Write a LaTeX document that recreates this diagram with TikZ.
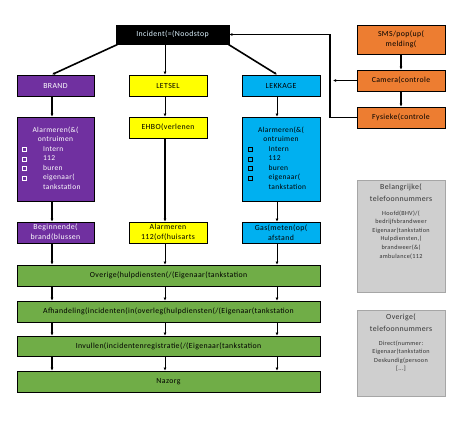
\documentclass[tikz,border=0pt]{standalone}
\usepackage{fontspec}
\setmainfont{Carlito}[LetterSpace=5]
\usetikzlibrary{arrows.meta,calc}
\definecolor{cpurple}{HTML}{7030A0}
\definecolor{cyellow}{HTML}{FFFF00}
\definecolor{cblue}{HTML}{00B0F0}
\definecolor{cgreen}{HTML}{70AD47}
\definecolor{corange}{HTML}{ED7D31}
\definecolor{cgray}{HTML}{CFCFCF}
\definecolor{cgrayline}{HTML}{A6A6A6}
\definecolor{ctitle}{HTML}{DDF4FF}
\newcommand{\sqbox}{\tikz[baseline=0pt]\draw[line width=0.5pt] (0,0) rectangle (4pt,4pt);}
\tikzset{
  bx/.style={draw=black, line width=0.9pt, inner sep=1pt, align=center, font=\fontsize{7.8}{10}\selectfont},
  purplebox/.style={bx, fill=cpurple, text=white},
  yellowbox/.style={bx, fill=cyellow, text=black},
  bluebox/.style={bx, fill=cblue, text=black},
  greenbox/.style={bx, fill=cgreen, text=black, minimum width=303pt},
  orangebox/.style={bx, fill=corange, text=black, minimum width=88pt},
  graybox/.style={draw=cgrayline, line width=0.8pt, fill=cgray, minimum width=88pt},
  graytext/.style={text=black!80, inner sep=0pt},
  arr/.style={-{Latex[length=3pt,width=3pt]}, line width=0.9pt},
  thickarr/.style={-{Latex[length=3pt,width=3pt]}, line width=1.6pt},
}
\newcommand{\alarmlist}{%
  \fontsize{7.5}{9.5}\selectfont
  \begin{tabular}{@{}p{21pt}@{}p{46pt}@{}}
  \multicolumn{2}{@{}c@{}}{Alarmeren(\&(}\\
  \multicolumn{2}{@{}c@{}}{ontruimen}\\
  \sqbox & Intern\\
  \sqbox & 112\\
  \sqbox & buren\\
  \sqbox & eigenaar(\\
   & tankstation
  \end{tabular}}
\begin{document}
\begin{tikzpicture}[x=1pt,y=-1pt]
\useasboundingbox (0,0) rectangle (459,423);
% top
\node[bx, fill=black, text=ctitle, minimum width=113pt, minimum height=19pt] (inc) at (172.5,34.5) {Incident(=(Noodstop};
\node[orangebox, minimum height=29pt] (sms) at (401,39.5) {SMS/pop(up(\\melding(};
\node[orangebox, minimum height=21pt] (cam) at (401,80.5) {Camera(controle};
\node[orangebox, minimum height=21pt] (fys) at (401,117.5) {Fysieke(controle};
% columns
\coordinate (colA) at (52,0);
\coordinate (colB) at (165,0);
\coordinate (colC) at (277,0);
\coordinate (fb) at (330,0);
\node[purplebox, minimum width=77pt, minimum height=21pt] (brand) at (55.5,85.5) {BRAND};
\node[yellowbox, minimum width=78pt, minimum height=21pt] (letsel) at (168,85.5) {LETSEL};
\node[bluebox, minimum width=78pt, minimum height=21pt] (lekkage) at (281,85.5) {LEKKAGE};
\node[purplebox, minimum width=77pt, minimum height=84pt] (alP) at (55.5,159) {\alarmlist};
\node[yellowbox, minimum width=78pt, minimum height=21pt] (ehbo) at (168,127.5) {EHBO(verlenen};
\node[bluebox, minimum width=78pt, minimum height=84pt] (alB) at (281,159) {\alarmlist};
\node[purplebox, minimum width=77pt, minimum height=21pt] (beg) at (55.5,232.5) {Beginnende(\\brand(blussen};
\node[yellowbox, minimum width=78pt, minimum height=21pt] (al112) at (168,232.5) {Alarmeren\\112(of(huisarts};
\node[bluebox, minimum width=78pt, minimum height=21pt] (gas) at (281,232.5) {Gas(meten(op(\\afstand};
% green bars
\node[greenbox, minimum height=21pt] (g1) at (168.5,275.5) {Overige(hulpdiensten(/(Eigenaar(tankstation};
\node[greenbox, minimum height=21pt] (g2) at (168.5,311.5) {Afhandeling(incidenten(in(overleg(hulpdiensten(/(Eigenaar(tankstation};
\node[greenbox, minimum height=20pt] (g3) at (168.5,346) {Invullen(incidentenregistratie(/(Eigenaar(tankstation};
\node[greenbox, minimum height=21pt] (g4) at (168.5,381.5) {Nazorg};
% gray boxes
\node[graybox, minimum height=112pt] (tel1) at (401,236) {};
\node[graytext, anchor=north] (tel1t) at ([yshift=-4pt]tel1.north) {\begin{minipage}{86pt}\centering
  \fontsize{7.8}{12}\selectfont Belangrijke(\\telefoonnummers\par\vspace{5pt}
  \fontsize{6.2}{8.6}\selectfont Hoofd(BHV)/(\\bedrijfsbrandweer\\Eigenaar(tankstation\\Hulpdiensten,(\\brandweer(\&(\\ambulance(112\par\end{minipage}};
\node[graybox, minimum height=86pt] (tel2) at (401,353) {};
\node[graytext, anchor=north] (tel2t) at ([yshift=-4pt]tel2.north) {\begin{minipage}{86pt}\centering
  \fontsize{7.8}{12}\selectfont Overige(\\telefoonnummers\par\vspace{5pt}
  \fontsize{6.2}{8.6}\selectfont Direct(nummer:\\Eigenaar(tankstation\\Deskundig(persoon\\{[...]}\par\end{minipage}};
% connectors top
\draw[thickarr] ([xshift=2pt]inc.south west) -- (brand.north -| colA);
\draw[arr] (inc.south -| colB) -- (letsel.north -| colB);
\draw[thickarr] ([xshift=-1pt]inc.south east) -- (lekkage.north -| colC);
\draw[thickarr] (sms.south) -- (cam.north);
\draw[thickarr] (cam.south) -- (fys.north);
\draw[thickarr] (cam.west) -- ([xshift=3pt]cam.west -| fb);
\draw[arr, line width=1.4pt] (fys.west) -- (fys.west -| fb) |- (inc.east);
% column arrows
\draw[thickarr] (brand.south -| colA) -- (alP.north -| colA);
\draw[thickarr] (alP.south -| colA) -- (beg.north -| colA);
\draw[thickarr] (beg.south -| colA) -- (g1.north -| colA);
\draw[arr] (letsel.south -| colB) -- (ehbo.north -| colB);
\draw[thickarr] (ehbo.south -| colB) -- (al112.north -| colB);
\draw[arr] (al112.south -| colB) -- (g1.north -| colB);
\draw[arr] (lekkage.south -| colC) -- (alB.north -| colC);
\draw[arr] (alB.south -| colC) -- (gas.north -| colC);
\draw[arr] (gas.south -| colC) -- (g1.north -| colC);
% between green bars
\draw[thickarr] (g1.south -| colA) -- (g2.north -| colA);
\draw[arr] (g1.south -| colB) -- (g2.north -| colB);
\draw[arr] (g1.south -| colC) -- (g2.north -| colC);
\draw[thickarr] (g2.south -| colA) -- (g3.north -| colA);
\draw[arr] (g2.south -| colB) -- (g3.north -| colB);
\draw[arr] (g2.south -| colC) -- (g3.north -| colC);
\draw[thickarr] (g3.south -| colA) -- (g4.north -| colA);
\draw[arr] (g3.south -| colB) -- (g4.north -| colB);
\draw[arr] (g3.south -| colC) -- (g4.north -| colC);
\end{tikzpicture}
\end{document}
